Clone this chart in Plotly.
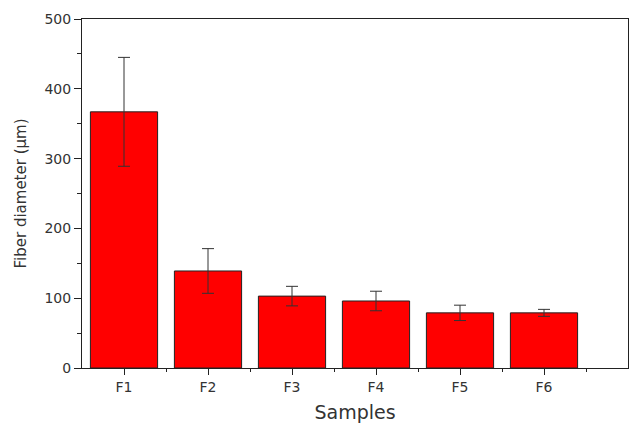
import plotly.graph_objects as go

samples = ["F1", "F2", "F3", "F4", "F5", "F6"]
diameter = [367, 139, 103, 96, 79, 79]
diameter_err = [78, 32, 14, 14, 11, 5]
y_ticks = [0, 100, 200, 300, 400, 500]

xpos = list(range(len(samples)))
minor_x = [i + 0.5 for i in xpos]

fig = go.Figure()
fig.add_trace(go.Bar(
    x=xpos, y=diameter, width=0.8,
    marker=dict(color="#FF0000", line=dict(color="#222222", width=1)),
    error_y=dict(type="data", array=diameter_err, visible=True,
                 color="#333333", thickness=1, width=6),
))

font = "DejaVu Sans, Verdana, sans-serif"
txt = "#333333"
fig.update_layout(
    width=630, height=425,
    margin=dict(l=82, r=2, t=19, b=57),
    paper_bgcolor="white", plot_bgcolor="white",
    showlegend=False,
    font=dict(family=font, color=txt),
    xaxis=dict(
        range=[-0.5, 6.0], tickvals=xpos, ticktext=samples,
        ticks="outside", ticklen=6, tickcolor="#222", tickwidth=1,
        minor=dict(tickvals=minor_x, ticks="outside", ticklen=3, tickcolor="#222"),
        showline=True, linecolor="#222", linewidth=1, mirror=True,
        showgrid=False, zeroline=False, automargin=False,
        tickfont=dict(size=14, family=font, color=txt),
        title=dict(text="Samples", font=dict(size=19, family=font, color=txt), standoff=11),
    ),
    yaxis=dict(
        range=[0, 500], tickvals=y_ticks,
        ticks="outside", ticklen=7, tickcolor="#222", tickwidth=1,
        minor=dict(dtick=50, ticks="outside", ticklen=4, tickcolor="#222"),
        showline=True, linecolor="#222", linewidth=1, mirror=True,
        showgrid=False, zeroline=False, automargin=False,
        tickfont=dict(size=14, family=font, color=txt),
        title=dict(text="Fiber diameter (μm)", font=dict(size=15, family=font, color=txt), standoff=14),
    ),
)
fig.write_html("out.html", post_script="document.body.style.margin='0';",
               config={"displayModeBar": False})
